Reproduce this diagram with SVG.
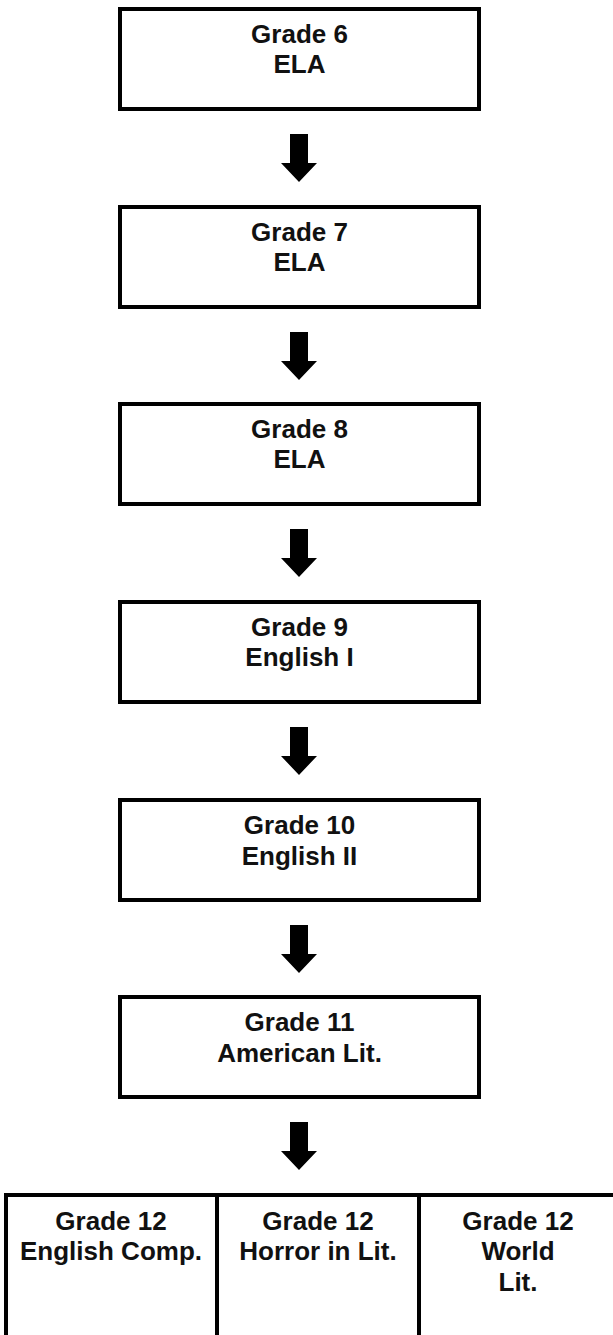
<svg xmlns="http://www.w3.org/2000/svg" width="613" height="1335" viewBox="0 0 613 1335">
<style>
.box{fill:#fff;stroke:#000;stroke-width:4}
.t{font-family:"Liberation Sans",Arial,sans-serif;font-weight:bold;font-size:26px;fill:#111;text-anchor:middle}
.arr{fill:#000}
</style>
<defs>
<path id="arrow" d="M290,0 H308 V29 H317 L299,48 L281,29 H290 Z"/>
</defs>
<rect width="613" height="1335" fill="#fff"/>
<g id="connectors">
<use href="#arrow" class="arr" y="134"/>
<use href="#arrow" class="arr" y="332"/>
<use href="#arrow" class="arr" y="529"/>
<use href="#arrow" class="arr" y="727"/>
<use href="#arrow" class="arr" y="925"/>
<use href="#arrow" class="arr" y="1122"/>
</g>
<g id="g6"><rect class="box" x="120" y="9" width="359" height="100"/><text class="t" x="299.5" y="43">Grade 6</text><text class="t" x="299.5" y="73">ELA</text></g>
<g id="g7"><rect class="box" x="120" y="207" width="359" height="100"/><text class="t" x="299.5" y="241">Grade 7</text><text class="t" x="299.5" y="271">ELA</text></g>
<g id="g8"><rect class="box" x="120" y="404" width="359" height="100"/><text class="t" x="299.5" y="438">Grade 8</text><text class="t" x="299.5" y="468">ELA</text></g>
<g id="g9"><rect class="box" x="120" y="602" width="359" height="100"/><text class="t" x="299.5" y="636">Grade 9</text><text class="t" x="299.5" y="666">English I</text></g>
<g id="g10"><rect class="box" x="120" y="800" width="359" height="100"/><text class="t" x="299.5" y="834">Grade 10</text><text class="t" x="299.5" y="865">English II</text></g>
<g id="g11"><rect class="box" x="120" y="997" width="359" height="100"/><text class="t" x="299.5" y="1031">Grade 11</text><text class="t" x="299.5" y="1062">American Lit.</text></g>
<g id="g12a"><rect class="box" x="6" y="1195" width="211" height="160"/><text class="t" x="111" y="1230">Grade 12</text><text class="t" x="111" y="1260">English Comp.</text></g>
<g id="g12b"><rect class="box" x="217" y="1195" width="202" height="160"/><text class="t" x="318" y="1230">Grade 12</text><text class="t" x="318" y="1260">Horror in Lit.</text></g>
<g id="g12c"><rect class="box" x="419" y="1195" width="198" height="160"/><text class="t" x="518" y="1230">Grade 12</text><text class="t" x="518" y="1260">World</text><text class="t" x="518" y="1291">Lit.</text></g>
</svg>
